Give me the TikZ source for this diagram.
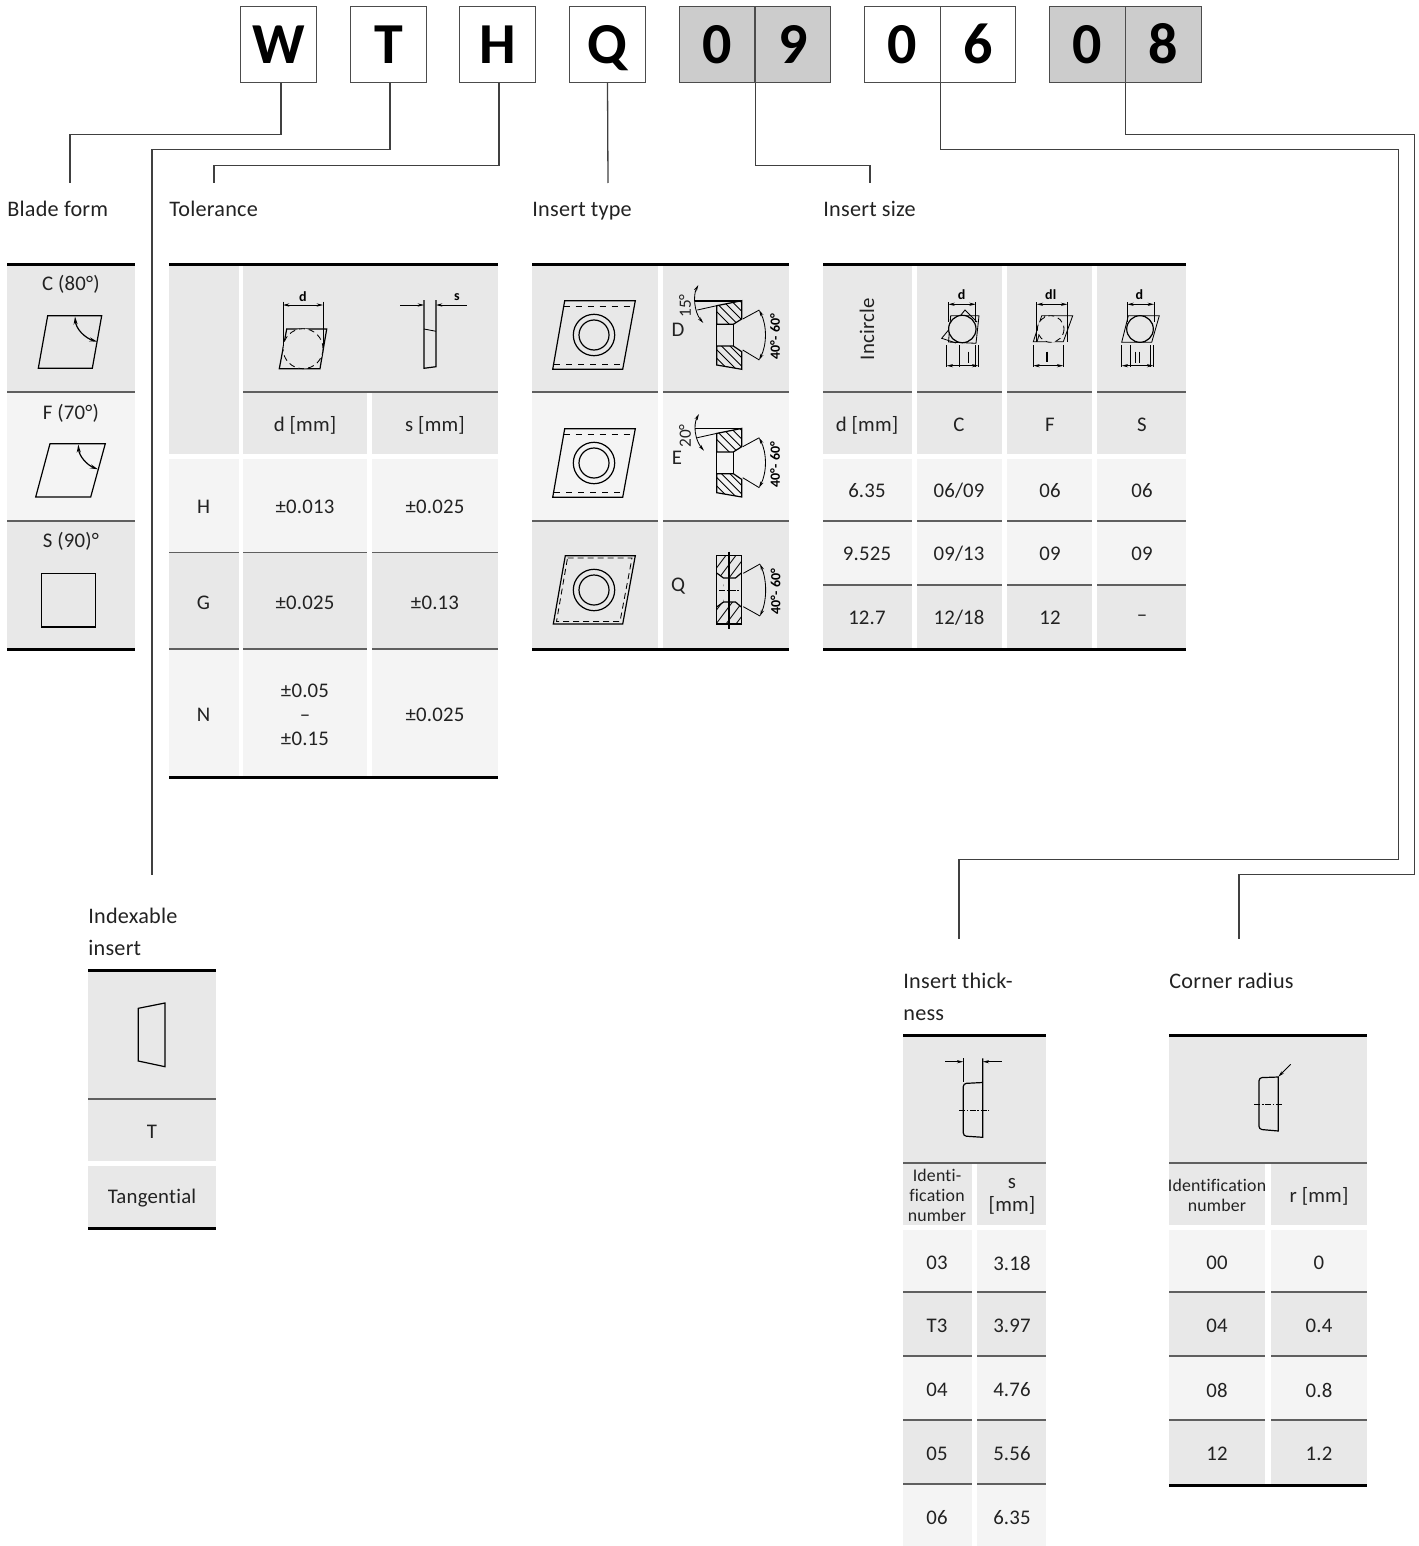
\documentclass[tikz,border=0pt]{standalone}
\usepackage{fontspec}
\setmainfont[LetterSpace=1,Ligatures=NoCommon]{Carlito}
\usetikzlibrary{arrows.meta}
\definecolor{cellgrey}{HTML}{E8E8E8}
\definecolor{celllight}{HTML}{F4F4F4}
\definecolor{boxgrey}{HTML}{CCCCCC}
\definecolor{rulegrey}{HTML}{5F5F5F}
\definecolor{inktext}{HTML}{222222}
\tikzset{
  letterbox/.style={draw=black!70, line width=0.55pt, minimum size=37.6pt, inner sep=0pt, text height=18.8pt, text depth=0pt, font=\fontsize{29}{30}\selectfont\bfseries},
  link/.style={draw=black!75, line width=0.65pt},
  headtext/.style={anchor=west, inner sep=0pt, yshift=-0.5pt, align=left, text=inktext, font=\fontsize{11.1}{16}\selectfont},
  celltext/.style={inner sep=0pt, yshift=-0.5pt, align=center, text=inktext, font=\fontsize{10.4}{12}\selectfont},
  smalltext/.style={inner sep=0pt, align=center, text=inktext, font=\fontsize{8.9}{10}\selectfont},
  toprule/.style={line width=1.5pt, black},
  rowline/.style={line width=0.65pt, rulegrey},
  icon/.style={line width=0.6pt, black},
  thinicon/.style={line width=0.42pt, black},
  centreline/.style={line width=0.5pt, black, dash pattern=on 3pt off 0.8pt on 0.8pt off 0.8pt},
  dimlabel/.style={inner sep=0pt, font=\fontsize{7}{7}\selectfont\bfseries},
  tinyarrow/.style={>={Stealth[length=3.2pt,width=1.6pt]}},
  bladearrow/.style={>={Stealth[length=4pt,width=2pt]}}
}
\begin{document}
\begin{tikzpicture}[x=0.5pt, y=-0.5pt]
    \useasboundingbox (0,0) rectangle (1418,1546);

    % Code letters
    \node[letterbox] (boxW) at (278.5,44.5) {W};
    \node[letterbox] (boxT) at (388.5,44.5) {T};
    \node[letterbox] (boxH) at (497.5,44.5) {H};
    \node[letterbox] (boxQ) at (607.5,44.5) {Q};
    \node[letterbox, fill=boxgrey] (boxNineA) at (717,44.5) {0};
    \node[letterbox, fill=boxgrey] (boxNineB) at (793,44.5) {9};
    \node[letterbox] (boxSixA) at (902.5,44.5) {0};
    \node[letterbox] (boxSixB) at (978,44.5) {6};
    \node[letterbox, fill=boxgrey] (boxEightA) at (1087.5,44.5) {0};
    \node[letterbox, fill=boxgrey] (boxEightB) at (1163.5,44.5) {8};

    % Headings
    \node[headtext] (headBlade) at (7,208) {Blade form};
    \node[headtext] (headTol) at (169,208) {Tolerance};
    \node[headtext] (headType) at (532,210) {Insert type};
    \node[headtext] (headSize) at (823,208) {Insert size};
    \node[headtext] (headIndex) at (88,931) {Indexable\\insert};
    \node[headtext] (headThick) at (903,996) {Insert thick-\\ness};
    \node[headtext] (headRadius) at (1169,980) {Corner radius};

    % Free ends of the connectors
    \coordinate (endBlade) at (70,183);
    \coordinate (endTol) at (214,183);
    \coordinate (endType) at (608,183);
    \coordinate (endSize) at (870,183);
    \coordinate (endIndex) at (152,875);
    \coordinate (endThick) at (959,939);
    \coordinate (endRadius) at (1239,939);

    % Connectors
    \draw[link] ([xshift=1.2pt]boxW.south) -- ++(0,52) -| (endBlade);
    \draw[link] ([xshift=0.8pt]boxT.south) -- ++(0,67) -| (endIndex);
    \draw[link] ([xshift=0.8pt]boxH.south) -- ++(0,83) -| (endTol);
    \draw[link] (boxQ.south) -- (endType);
    \draw[link] (boxNineA.south east) -- ++(0,83) -| (endSize);
    \draw[link] (boxSixA.south east) -- ++(0,67) -- ++(458,0) -- ++(0,710) -| (endThick);
    \draw[link] (boxEightA.south east) -- ++(0,52) -- ++(289,0) -- ++(0,740) -| (endRadius);

    % Blade form table
    \fill[cellgrey] (7,264) rectangle (135,392);
    \fill[celllight] (7,392) rectangle (135,521);
    \fill[cellgrey] (7,521) rectangle (135,649);
    \draw[rowline] (7,392) -- (135,392);
    \draw[rowline] (7,521) -- (135,521);
    \draw[toprule] (7,264) -- (135,264);
    \draw[toprule] (7,649) -- (135,649);
    \node[celltext] (bladeC) at (71,283) {C (80°)};
    \node[celltext] (bladeF) at (71,412) {F (70°)};
    \node[celltext] (bladeS) at (71,540) {S (90)°};
    \draw[icon] (47.7,315.7) -- (101.7,315.7) -- (92.3,368.3) -- (38.3,368.3) -- cycle;
    \draw[icon, bladearrow, <->] (75,316.5) .. controls (76,329) and (85,338) .. (97.3,341.7);
    \draw[icon] (50,443.7) -- (105.3,443.7) -- (90.7,497) -- (35.7,497) -- cycle;
    \draw[icon, bladearrow, <->] (78.3,444.5) .. controls (79,456) and (87,465) .. (98,469.3);
    \draw[icon] (41.7,573.7) rectangle (95.3,627);

    % Tolerance table
    \fill[cellgrey] (169,264) rectangle (239,454);
    \fill[cellgrey] (243,264) rectangle (498,392);
    \foreach \xa/\xb in {243/367,372/498} {
        \fill[cellgrey] (\xa,392) rectangle (\xb,454);
    }
    \foreach \xa/\xb in {169/239,243/367,372/498} {
        \fill[celllight] (\xa,459) rectangle (\xb,552);
        \fill[cellgrey] (\xa,552) rectangle (\xb,649);
        \fill[celllight] (\xa,649) rectangle (\xb,777);
        \draw[rowline] (\xa,552.5) -- (\xb,552.5);
        \draw[rowline] (\xa,649) -- (\xb,649);
    }
    \draw[rowline] (243,392) -- (498,392);
    \draw[toprule] (169,264) -- (498,264);
    \draw[toprule] (169,777) -- (498,777);
    \foreach \nm/\xc/\yc/\lbl in {tolD/305/424/{d [mm]}, tolS/435/424/{s [mm]},
        tolH/203.5/506/H, tolHd/305/506/{±0.013}, tolHs/435/506/{±0.025},
        tolG/203.5/602/G, tolGd/305/602/{±0.025}, tolGs/435/602/{±0.13},
        tolN/203.5/714/N, tolNs/435/714/{±0.025}} {
        \node[celltext] (\nm) at (\xc,\yc) {\lbl};
    }
    \node[celltext] (tolNd) at (305,714) {±0.05\\–\\±0.15};
    % incircle sketch and width sketch
    \draw[icon] (286.7,329) -- (326.7,329) -- (320,368.7) -- (279.3,368.7) -- cycle;
    \draw[thinicon, densely dashed, fill=cellgrey] (303,348.7) circle (20);
    \draw[thinicon] (283,301.7) -- (283,346);
    \draw[thinicon] (323,301.7) -- (323,346);
    \draw[thinicon, tinyarrow, <->] (283,305) -- (323,305);
    \node[dimlabel] (tolIconD) at (303,297) {d};
    \draw[thinicon, tinyarrow, ->] (400,305) -- (424,305);
    \draw[thinicon, tinyarrow, ->] (466.7,305) -- (436,305);
    \draw[icon] (424,300) -- (424,368.3) -- (436,366.7) -- (436,300);
    \draw[thinicon] (424,329) -- (436,331.3);
    \node[dimlabel] (tolIconS) at (457,297) {s};

    % Insert type table
    \foreach \xa/\xb in {532/658,663/789} {
        \fill[cellgrey] (\xa,264) rectangle (\xb,392);
        \fill[celllight] (\xa,392) rectangle (\xb,521);
        \fill[cellgrey] (\xa,521) rectangle (\xb,649);
        \draw[rowline] (\xa,392) -- (\xb,392);
        \draw[rowline] (\xa,521) -- (\xb,521);
    }
    \draw[toprule] (532,264) -- (789,264);
    \draw[toprule] (532,649) -- (789,649);
    % plan views, rows D and E
    \foreach \dy in {0,128} {
        \begin{scope}[shift={(0,\dy)}]
            \draw[icon] (564.7,300.7) -- (635.3,300.7) -- (622.7,369.3) -- (552.7,369.3) -- cycle;
            \draw[thinicon, dashed] (563.7,306) -- (634,306);
            \draw[thinicon, dashed] (554,364) -- (623.3,364);
            \draw[icon] (594,335) circle (20.7);
            \draw[icon] (594,335) circle (15);
        \end{scope}
    }
    % plan view, row Q
    \draw[icon] (565.3,555.7) -- (635.3,555.7) -- (622.7,624) -- (553.3,624) -- cycle;
    \draw[thinicon, densely dashed] (567.5,558) -- (632,558) -- (620,621.5) -- (556.5,621.5) -- cycle;
    \draw[icon] (594,590) circle (20.7);
    \draw[icon] (594,590) circle (15);
    % sections, rows D and E
    \foreach \dy in {0,127.7} {
        \begin{scope}[shift={(0,\dy)}]
            \begin{scope}
                \clip (716.7,305.7) -- (741.7,300.7) -- (741.7,319) -- (733.3,324.3) -- (716.7,324.3) -- cycle;
                \foreach \k in {0,8.5,...,60} {
                    \draw[thinicon] (700+\k,295) -- (700+\k+35,330);
                }
            \end{scope}
            \begin{scope}
                \clip (716.7,346) -- (733.3,346) -- (741.7,351.7) -- (741.7,369.3) -- (716.7,365) -- cycle;
                \foreach \k in {0,8.5,...,60} {
                    \draw[thinicon] (690+\k,340) -- (690+\k+35,375);
                }
            \end{scope}
            \draw[icon] (716.7,305.7) -- (741.7,300.7) -- (741.7,319) -- (733.3,324.3) -- (716.7,324.3) -- cycle;
            \draw[icon] (716.7,346) -- (733.3,346) -- (741.7,351.7) -- (741.7,369.3) -- (716.7,365) -- cycle;
            \draw[icon] (716.7,324.3) -- (716.7,346);
            \draw[icon] (733.3,324.3) -- (733.3,346);
            \draw[line width=0.9pt] (695,300.7) -- (741.7,300.7);
            \draw[thinicon] (697.3,310) -- (716.7,305.7);
            \draw[thinicon] (742.7,319) -- (759.3,310);
            \draw[thinicon] (742.7,350) -- (759.3,360);
            \draw[thinicon, tinyarrow, <->] (759,310) .. controls (767,325) and (767,345) .. (759,360);
            \node[dimlabel, rotate=90] (angle\dy) at (775,336.7) {40°- 60°};
        \end{scope}
    }
    \draw[thinicon, tinyarrow, <->] (698.3,285) .. controls (693,295) and (694,312) .. (703.3,323);
    \draw[thinicon, tinyarrow, <->] (699,414) .. controls (693,425) and (695,440) .. (704,450.7);
    \node[celltext, rotate=90, font=\fontsize{8.6}{9}\selectfont] (angleD) at (685,305) {15°};
    \node[celltext, rotate=90, font=\fontsize{8.6}{9}\selectfont] (angleE) at (685,435) {20°};
    \node[celltext] (typeD) at (678,329) {D};
    \node[celltext] (typeE) at (677,457) {E};
    \node[celltext] (typeQ) at (678,585) {Q};
    % section, row Q
    \begin{scope}
        \clip (716.7,555.7) rectangle (741.3,624);
        \foreach \k in {0,10,...,60} {
            \draw[thinicon] (700+\k,590) -- (700+\k+30,550);
            \draw[thinicon] (700+\k,632) -- (700+\k+30,592);
        }
        \fill[cellgrey] (723.5,578) rectangle (735.5,602);
        \fill[cellgrey] (716,573) -- (723.5,578) -- (723.5,602) -- (716,607) -- cycle;
        \fill[cellgrey] (742,573) -- (735.5,578) -- (735.5,602) -- (742,607) -- cycle;
    \end{scope}
    \draw[icon] (716.7,555.7) rectangle (741.3,624);
    \draw[icon] (716.7,573) -- (723.5,578) -- (735.5,578) -- (741.3,573);
    \draw[icon] (716.7,607) -- (723.5,602) -- (735.5,602) -- (741.3,607);
    \draw[line width=0.9pt] (729,551.7) -- (729,629.3);
    \draw[centreline] (719,590) -- (739,590);
    \draw[thinicon] (743.3,573.3) -- (760,564);
    \draw[thinicon] (743.3,606.7) -- (760,616);
    \draw[thinicon, tinyarrow, <->] (760,564) .. controls (767,580) and (767,600) .. (760,616);
    \node[dimlabel, rotate=90] (angleQ) at (775.7,591.7) {40°- 60°};

    % Insert size table
    \foreach \xa/\xb in {823/912,917/1002,1007/1092,1097/1186} {
        \fill[cellgrey] (\xa,264) rectangle (\xb,454);
        \fill[celllight] (\xa,459) rectangle (\xb,585);
        \fill[cellgrey] (\xa,585) rectangle (\xb,649);
        \draw[rowline] (\xa,392) -- (\xb,392);
        \draw[rowline] (\xa,521) -- (\xb,521);
        \draw[rowline] (\xa,585) -- (\xb,585);
    }
    \draw[toprule] (823,264) -- (1186,264);
    \draw[toprule] (823,649) -- (1186,649);
    \node[celltext, rotate=90] (sizeIncircle) at (867,328) {Incircle};
    \foreach \nm/\xc/\lbl/\yc in {sizeD/867/{d [mm]}/424, sizeC/959/C/424, sizeF/1050/F/424, sizeS/1142/S/424,
        sizeA/867/6.35/490, sizeB/959/06\slash 09/490, sizeE/1050/06/490, sizeG/1142/06/490,
        sizeH/867/9.525/553, sizeI/959/09\slash 13/553, sizeJ/1050/09/553, sizeK/1142/09/553,
        sizeL/867/12.7/617, sizeM/959/12\slash 18/617, sizeN/1050/12/617, sizeO/1142/–/617} {
        \node[celltext] (\nm) at (\xc,\yc) {\lbl};
    }
    % C sketch
    \draw[thinicon] (950.7,315.7) -- (979,315.7) -- (976,343.3) -- (948.5,342) -- cycle;
    \draw[thinicon] (956,343) -- (941.7,338.3) -- (965,310) -- (977,322);
    \draw[icon, fill=cellgrey] (962.3,329) circle (13.7);
    \draw[thinicon] (948.3,302) -- (948.3,321.7);
    \draw[thinicon] (975.7,302) -- (975.7,321.7);
    \draw[thinicon, tinyarrow, <->] (948.3,304.3) -- (975.7,304.3);
    \node[dimlabel] (sizeIconC) at (961.7,294.3) {d};
    \foreach \xl in {946.7,959.3,975,978.3} {
        \draw[thinicon] (\xl,345) -- (\xl,367.3);
    }
    \draw[thinicon] (968.3,351.7) -- (968.3,363.3);
    \draw[thinicon, tinyarrow, <->] (946.7,365.7) -- (978.3,365.7);
    % F sketch
    \draw[thinicon] (1041.7,315.7) -- (1072.7,315.7) -- (1063.3,341.7) -- (1033.3,341.7) -- cycle;
    \draw[thinicon] (1037,341.7) -- (1045,315.7);
    \draw[thinicon, densely dashed, fill=cellgrey] (1050.7,329) circle (13.3);
    \draw[thinicon] (1036.7,302) -- (1036.7,341.7);
    \draw[thinicon] (1067.3,302) -- (1067.3,341.7);
    \draw[thinicon, tinyarrow, <->] (1036.7,304.3) -- (1067.3,304.3);
    \node[dimlabel] (sizeIconF) at (1050.7,294.3) {dl};
    \foreach \xl in {1033.3,1063.3} {
        \draw[thinicon] (\xl,345) -- (\xl,367.3);
    }
    \draw[line width=0.9pt] (1047.3,351.7) -- (1047.3,361.7);
    \draw[thinicon, tinyarrow, <->] (1033.3,365.7) -- (1063.3,365.7);
    % S sketch
    \draw[thinicon] (1128.3,315.7) -- (1159.3,315.7) -- (1151.7,342.3) -- (1121.7,342.3) -- cycle;
    \draw[icon, fill=cellgrey] (1140,329) circle (13.3);
    \draw[thinicon] (1127.3,302) -- (1127.3,321.7);
    \draw[thinicon] (1154,302) -- (1154,321.7);
    \draw[thinicon, tinyarrow, <->] (1127.3,304.3) -- (1154,304.3);
    \node[dimlabel] (sizeIconS) at (1139.3,294.3) {d};
    \foreach \xl in {1121.7,1130,1150,1153.3} {
        \draw[thinicon] (\xl,345) -- (\xl,367.3);
    }
    \foreach \xl in {1135,1139.3} {
        \draw[thinicon] (\xl,351.7) -- (\xl,363.3);
    }
    \draw[thinicon, tinyarrow, <->] (1121.7,365.7) -- (1153.3,365.7);

    % Indexable insert table
    \fill[cellgrey] (88,970) rectangle (216,1161);
    \fill[cellgrey] (88,1166) rectangle (216,1228);
    \draw[rowline] (88,1099) -- (216,1099);
    \draw[toprule] (88,970) -- (216,970);
    \draw[toprule] (88,1228) -- (216,1228);
    \draw[icon] (138.3,1008.3) -- (165,1003) -- (165,1066.7) -- (138.3,1061) -- cycle;
    \node[celltext] (indexT) at (152,1131) {T};
    \node[celltext] (indexName) at (152,1197) {Tangential};

    % Insert thickness table
    \fill[cellgrey] (903,1035) rectangle (1046,1163);
    \foreach \xa/\xb in {903/972,977/1046} {
        \fill[cellgrey] (\xa,1163) rectangle (\xb,1225);
        \fill[celllight] (\xa,1230) rectangle (\xb,1292);
        \fill[cellgrey] (\xa,1292) rectangle (\xb,1356);
        \fill[celllight] (\xa,1356) rectangle (\xb,1420);
        \fill[cellgrey] (\xa,1420) rectangle (\xb,1484);
        \fill[celllight] (\xa,1484) rectangle (\xb,1546);
        \foreach \yl in {1292,1356,1420,1484} {
            \draw[rowline] (\xa,\yl) -- (\xb,\yl);
        }
    }
    \draw[rowline] (903,1163) -- (1046,1163);
    \draw[toprule] (903,1035) -- (1046,1035);
    \node[smalltext] (thickId) at (937,1195) {Identi-\\fication\\number};
    \node[celltext, font=\fontsize{10.4}{11.5}\selectfont] (thickS) at (1012,1195) {s\\{}[mm]};
    \foreach \nm/\yc/\lblA/\lblB in {thickA/1262/03/3.18, thickB/1325/T3/3.97, thickC/1389/04/4.76, thickD/1453/05/5.56, thickE/1517/06/6.35} {
        \node[celltext] (\nm L) at (937,\yc) {\lblA};
        \node[celltext] (\nm R) at (1012,\yc) {\lblB};
    }
    \draw[thinicon, tinyarrow, ->] (945,1061.7) -- (963.3,1061.7);
    \draw[thinicon, tinyarrow, ->] (1001.7,1061.7) -- (982.7,1061.7);
    \draw[icon] (963.3,1058.3) -- (963.3,1081.7);
    \draw[icon] (982.7,1058.3) -- (982.7,1137.3) [rounded corners=1.5pt] -- (963.3,1136) -- (963.3,1083.5) [sharp corners] -- (982.7,1082.5);
    \draw[centreline] (959,1110) -- (988.3,1110);

    % Corner radius table
    \fill[cellgrey] (1169,1035) rectangle (1367,1163);
    \foreach \xa/\xb in {1169/1265,1271/1367} {
        \fill[cellgrey] (\xa,1163) rectangle (\xb,1225);
        \fill[celllight] (\xa,1230) rectangle (\xb,1292);
        \fill[cellgrey] (\xa,1292) rectangle (\xb,1356);
        \fill[celllight] (\xa,1356) rectangle (\xb,1420);
        \fill[cellgrey] (\xa,1420) rectangle (\xb,1484);
        \foreach \yl in {1292,1356,1420} {
            \draw[rowline] (\xa,\yl) -- (\xb,\yl);
        }
    }
    \draw[rowline] (1169,1163) -- (1367,1163);
    \draw[toprule] (1169,1035) -- (1367,1035);
    \draw[toprule] (1169,1485) -- (1367,1485);
    \node[smalltext] (radiusId) at (1217,1195) {Identification\\number};
    \node[celltext] (radiusR) at (1319,1195) {r [mm]};
    \foreach \nm/\yc/\lblA/\lblB in {radiusA/1262/00/0, radiusB/1325/04/0.4, radiusC/1389/08/0.8, radiusD/1453/12/1.2} {
        \node[celltext] (\nm L) at (1217,\yc) {\lblA};
        \node[celltext] (\nm R) at (1319,\yc) {\lblB};
    }
    \draw[icon] (1278.3,1077) [rounded corners=1.5pt] -- (1259,1077.7) -- (1259,1129.3) [sharp corners] -- (1278.3,1131) -- cycle;
    \draw[centreline] (1254.3,1104) -- (1283.3,1104);
    \draw[thinicon, tinyarrow, ->] (1290.7,1064.3) -- (1278.3,1076.7);
\end{tikzpicture}
\end{document}
